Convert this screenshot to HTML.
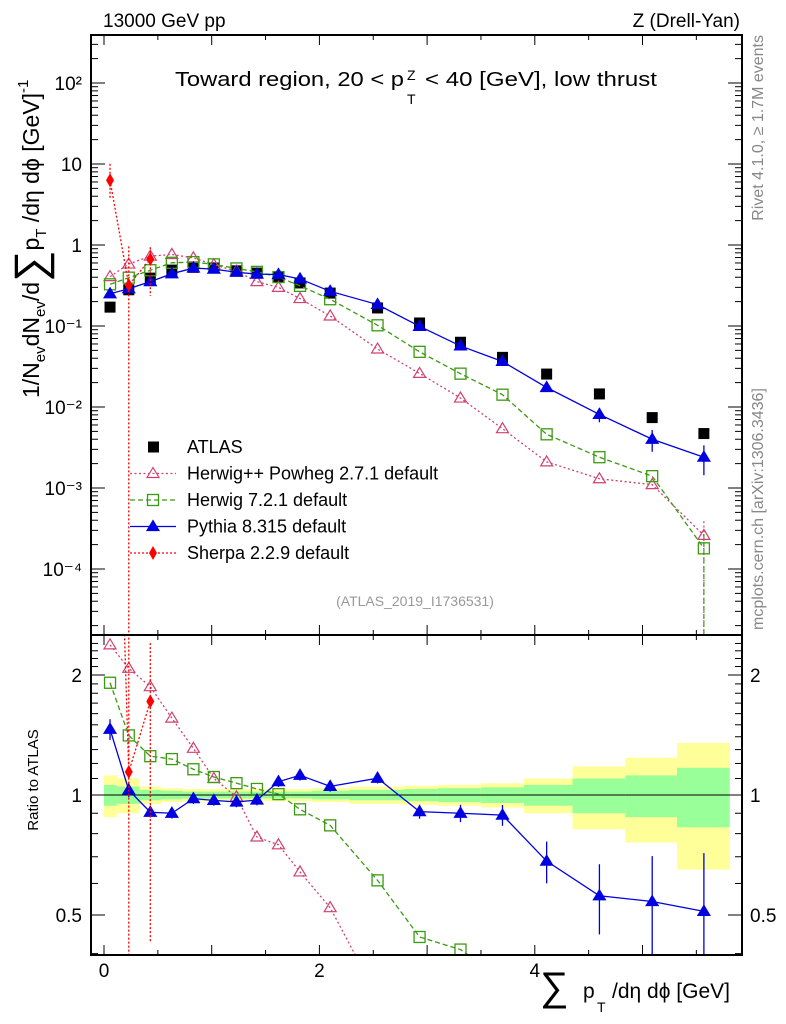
<!DOCTYPE html>
<html><head><meta charset="utf-8"><style>
html,body{margin:0;padding:0;background:#fff;overflow:hidden;width:786px;height:1024px;}
svg{display:block;}
svg text{font-family:"Liberation Sans",sans-serif;}
</style></head><body>
<svg id="c" width="786" height="1024" xmlns="http://www.w3.org/2000/svg" style="overflow:hidden"></svg>
<script>
const xs=[0.056,0.23,0.43,0.63,0.83,1.02,1.23,1.42,1.62,1.82,2.1,2.54,2.93,3.31,3.7,4.11,4.6,5.09,5.57];
const atlas=[0.171,0.28,0.39,0.49,0.53,0.52,0.48,0.45,0.40,0.34,0.255,0.167,0.109,0.063,0.041,0.0255,0.0145,0.0074,0.0047];
const herwigpp=[0.407,0.582,0.729,0.764,0.694,0.572,0.475,0.353,0.30,0.218,0.133,0.052,0.026,0.0129,0.0054,0.0021,0.0013,0.0011,0.00026];
const herwig7=[0.327,0.395,0.488,0.603,0.615,0.577,0.514,0.466,0.402,0.313,0.214,0.102,0.048,0.0258,0.0142,0.0046,0.0024,0.0014,0.00018];
const pythia=[0.25,0.288,0.353,0.441,0.519,0.504,0.461,0.437,0.432,0.381,0.268,0.184,0.099,0.0567,0.0365,0.0174,0.0081,0.0040,0.0024];
const pythiaRelErr=[0.06,0.04,0.03,0.03,0.03,0.03,0.03,0.03,0.03,0.03,0.03,0.03,0.04,0.05,0.06,0.12,0.2,0.3,0.4];
const sherpaX=[0.056,0.23,0.43];
const sherpa=[6.3,0.32,0.67];
const binEdges=[0,0.12,0.33,0.53,0.73,0.93,1.13,1.33,1.53,1.73,1.93,2.28,2.78,3.1,3.5,3.9,4.35,4.84,5.32,5.81];
const bandGreen=[0.06,0.05,0.03,0.025,0.02,0.02,0.02,0.02,0.02,0.02,0.025,0.03,0.035,0.04,0.045,0.06,0.1,0.12,0.17];
const bandYellow=[0.12,0.1,0.05,0.04,0.035,0.035,0.035,0.035,0.035,0.035,0.04,0.05,0.055,0.06,0.07,0.1,0.18,0.24,0.35];
const xTicks=[0,2,4];
const mainTicks=[[2,"10²"],[1,"10"],[0,"1"],[-1,"10⁻¹"],[-2,"10⁻²"],[-3,"10⁻³"],[-4,"10⁻⁴"]];
const ratioTicks=[2,1,0.5];

const L=91,R=742,T=35,M=635,B=955;
const X=v=>104+107.7*v;
const Y=v=>245-81*Math.log10(v);
const YR=r=>795-120*Math.log2(r);
const svg=document.getElementById('c');
const NS="http://www.w3.org/2000/svg";
function mk(tag,attrs,parent){const e=document.createElementNS(NS,tag);for(const k in attrs)e.setAttribute(k,attrs[k]);(parent||svg).appendChild(e);return e;}
function tx(x,y,s,size,anchor,extra){const e=mk('text',Object.assign({x:x,y:y,'font-size':size,'text-anchor':anchor||'start'},extra||{}));e.textContent=s;return e;}

const defs=mk('defs',{});
const c1=mk('clipPath',{id:'cm'},defs);mk('rect',{x:L,y:T,width:R-L,height:M-T},c1);
const c2=mk('clipPath',{id:'cr'},defs);mk('rect',{x:L,y:M,width:R-L,height:B-M},c2);
const gm=mk('g',{'clip-path':'url(#cm)'});


const gr=mk('g',{'clip-path':'url(#cr)'});



for(let i=0;i<bandYellow.length;i++){
  const x0=X(binEdges[i]),x1=X(binEdges[i+1]);
  const ry=mk('rect',{x:x0,y:YR(1+bandYellow[i]),width:x1-x0,height:YR(1-bandYellow[i])-YR(1+bandYellow[i]),fill:'#ffff99'},gr);
  
  
  const rg=mk('rect',{x:x0,y:YR(1+bandGreen[i]),width:x1-x0,height:YR(1-bandGreen[i])-YR(1+bandGreen[i]),fill:'#99ff99'},gr);
  
  
}
mk('line',{x1:L,x2:R,y1:YR(1),y2:YR(1),stroke:'#000','stroke-width':1},gr);

function tri(g,x,y,col,fill){return mk('path',{d:`M${x} ${y-6}L${x+6} ${y+4}L${x-6} ${y+4}Z`,fill:fill?col:'none',stroke:col,'stroke-width':1.2},g);}
function sq(g,x,y,col,fill){return mk('rect',{x:x-5.5,y:y-5.5,width:11,height:11,fill:fill?col:'none',stroke:col,'stroke-width':1.3},g);}
function dia(g,x,y,col){return mk('path',{d:`M${x} ${y-7}L${x+4} ${y}L${x} ${y+7}L${x-4} ${y}Z`,fill:col},g);}

function series(vals,xv,col,dash,marker,fill,name,err,tail){
  const n=vals.length;
  let p=xv.slice(0,n).map((x,i)=>`${X(x)},${Y(vals[i])}`).join(' ');
  const l1=mk('polyline',{points:p,fill:'none',stroke:col,'stroke-width':1.3,'stroke-dasharray':dash},gm);
  
  
  let p2=xv.slice(0,n).map((x,i)=>`${X(x)},${YR(vals[i]/atlas[i])}`).join(' ');
  const l2=mk('polyline',{points:p2,fill:'none',stroke:col,'stroke-width':1.3,'stroke-dasharray':dash},gr);
  
  
  for(let i=0;i<n;i++){
    const x=X(xv[i]);
    if(err){
      const r=vals[i]/atlas[i],e=err[i];
      mk('line',{x1:x,x2:x,y1:YR(r*(1+e)),y2:YR(Math.max(r*(1-e),0.01)),stroke:col,'stroke-width':1.3},gr);
      mk('line',{x1:x,x2:x,y1:Y(vals[i]*(1+e)),y2:Y(vals[i]*(1-e)),stroke:col,'stroke-width':1.3},gm);
    }
    const m1=marker(gm,x,Y(vals[i]),col,fill);
    
    
    const m2=marker(gr,x,YR(vals[i]/atlas[i]),col,fill);
    
    
  }
  if(tail){
    const xl=X(xv[n-1]);
    mk('line',{x1:xl,x2:xl,y1:Y(vals[n-1]*1.5),y2:M,stroke:col,'stroke-width':1.2,'stroke-dasharray':dash},gm);
  }
}
atlas.forEach((v,i)=>{const r=mk('rect',{x:X(xs[i])-5.5,y:Y(v)-5.5,width:11,height:11,fill:'#000'},gm);
  
  });
series(herwigpp,xs,'#d04070','2,2.5',tri,false,'herwigpp',null,true);
series(herwig7,xs,'#3a9a10','5,3',sq,false,'herwig7',null,true);
series(pythia,xs,'#0000e0','',tri,true,'pythia',pythiaRelErr,false);
(function(){const col='#ff0000';
 mk('polyline',{points:sherpaX.map((x,i)=>`${X(x)},${Y(sherpa[i])}`).join(' '),fill:'none',stroke:col,'stroke-width':1.3,'stroke-dasharray':'2,2'},gm);
 mk('polyline',{points:sherpaX.map((x,i)=>`${X(x)},${YR(sherpa[i]/atlas[i])}`).join(' '),fill:'none',stroke:col,'stroke-width':1.3,'stroke-dasharray':'2,2'},gr);
 const lo=[0.6,1e-6,0.35],hi=[1.6,3,1.4];
 const rlo=[0.6,0.01,0.25],rhi=[1.6,3,1.4];
 sherpaX.forEach((x,i)=>{
  mk('line',{x1:X(x),x2:X(x),y1:Y(sherpa[i]*hi[i]),y2:Y(sherpa[i]*lo[i]),stroke:col,'stroke-width':1.3,'stroke-dasharray':'2,2'},gm);
  const r=sherpa[i]/atlas[i];
  mk('line',{x1:X(x),x2:X(x),y1:YR(r*rhi[i]),y2:YR(r*rlo[i]),stroke:col,'stroke-width':1.3,'stroke-dasharray':'2,2'},gr);
  const d=dia(gm,X(x),Y(sherpa[i]),col);
  
  
  const d2=dia(gr,X(x),YR(r),col);
  
  
 });})();

const f1=mk('rect',{x:L,y:T,width:R-L,height:M-T,fill:'none',stroke:'#000','stroke-width':2});


const f2=mk('rect',{x:L,y:M,width:R-L,height:B-M,fill:'none',stroke:'#000','stroke-width':2});


for(let v=0;v<=6;v+=0.5){const x=X(v);if(x>R)break;const big=v%1===0;
  [T,M].forEach(yy=>mk('line',{x1:x,x2:x,y1:yy,y2:yy+(big?10:5),stroke:'#000'}));
  [M,B].forEach(yy=>mk('line',{x1:x,x2:x,y1:yy,y2:yy-(big?10:5),stroke:'#000'}));}
xTicks.forEach(v=>{const t=tx(X(v),977,String(v),19,'middle');});
for(let d=-5;d<=2;d++){for(let k=1;k<10;k++){const y=Y(k*Math.pow(10,d));if(y<T||y>M)continue;const w=k===1?14:7;
  mk('line',{x1:L,x2:L+w,y1:y,y2:y,stroke:'#000'});mk('line',{x1:R,x2:R-w,y1:y,y2:y,stroke:'#000'});}}
mainTicks.forEach(t=>{const e=tx(82,Y(Math.pow(10,t[0]))+7,t[1],19,'end');});
for(let r=0.4;r<=2.41;r+=0.1){const y=YR(r);if(y<M||y>B)continue;const big=[0.5,1,2].some(q=>Math.abs(q-r)<1e-6);const w=big?14:7;
  mk('line',{x1:L,x2:L+w,y1:y,y2:y,stroke:'#000'});mk('line',{x1:R,x2:R-w,y1:y,y2:y,stroke:'#000'});}
ratioTicks.forEach(r=>{let e=tx(82,YR(r)+7,String(r),19,'end');
  e=tx(750,YR(r)+7,String(r),19,'start');});

let t=tx(103,27,'13000 GeV pp',19);
t=tx(740,27,'Z (Drell-Yan)',19,'end');
t=tx(175,86,'Toward region, 20 < p',20,'start',{textLength:229,lengthAdjust:'spacingAndGlyphs'});
tx(407,80,'Z',14);tx(407,104,'T',14);
tx(425,86,'< 40 [GeV], low thrust',20,'start',{textLength:232,lengthAdjust:'spacingAndGlyphs'});
t=tx(415,606,'(ATLAS_2019_I1736531)',14,'middle',{fill:'#999'});
t=tx(0,0,'Rivet 4.1.0, ≥ 1.7M events',16,'end',{fill:'#888',transform:'translate(763,35) rotate(-90)'});
t=tx(0,0,'mcplots.cern.ch [arXiv:1306.3436]',16,'start',{fill:'#888',transform:'translate(763,630) rotate(-90)'});
t=tx(0,0,'Ratio to ATLAS',15,'middle',{transform:'translate(38,780) rotate(-90)'});
(function(){
 const e=mk('text',{x:0,y:0,'font-size':23,transform:'translate(39,398) rotate(-90)'});
 
 
 const parts=[['1/N',23,0],['ev',15,6],['dN',23,-6],['ev',15,6],['/d',23,-6],['∑',44,6],['p',23,-6],['T',15,7],[' /dη dϕ  [GeV]',23,-7],['-1',15,-11]];
 parts.forEach(p=>{const s=mk('tspan',{'font-size':p[1],dy:p[2]},e);s.textContent=p[0];});
})();
t=tx(540,1000,'∑',40);
tx(583,998,'p',21);tx(597,1012,'T',14);tx(612,998,'/dη dϕ [GeV]',21);

const leg=[['ATLAS','atlas'],['Herwig++ Powheg 2.7.1 default','herwigpp'],['Herwig 7.2.1 default','herwig7'],['Pythia 8.315 default','pythia'],['Sherpa 2.2.9 default','sherpa']];
leg.forEach((e,i)=>{const y=447+i*26.5;const g=mk('g',{});
  
  
  if(e[1]==='atlas')mk('rect',{x:148,y:y-5.5,width:11,height:11,fill:'#000'},g);
  if(e[1]==='herwigpp'){mk('line',{x1:130,x2:176,y1:y,y2:y,stroke:'#d04070','stroke-dasharray':'2,2.5','stroke-width':1.3},g);tri(g,153,y,'#d04070',false);}
  if(e[1]==='herwig7'){mk('line',{x1:130,x2:176,y1:y,y2:y,stroke:'#3a9a10','stroke-dasharray':'5,3','stroke-width':1.3},g);sq(g,153,y,'#3a9a10',false);}
  if(e[1]==='pythia'){mk('line',{x1:130,x2:176,y1:y,y2:y,stroke:'#0000e0','stroke-width':1.3},g);tri(g,153,y,'#0000e0',true);}
  if(e[1]==='sherpa'){mk('line',{x1:130,x2:176,y1:y,y2:y,stroke:'#ff0000','stroke-dasharray':'2,2','stroke-width':1.3},g);dia(g,153,y,'#ff0000');}
  const tt=mk('text',{x:187,y:y+6,'font-size':18},g);tt.textContent=e[0];
});
</script>
</body></html>
